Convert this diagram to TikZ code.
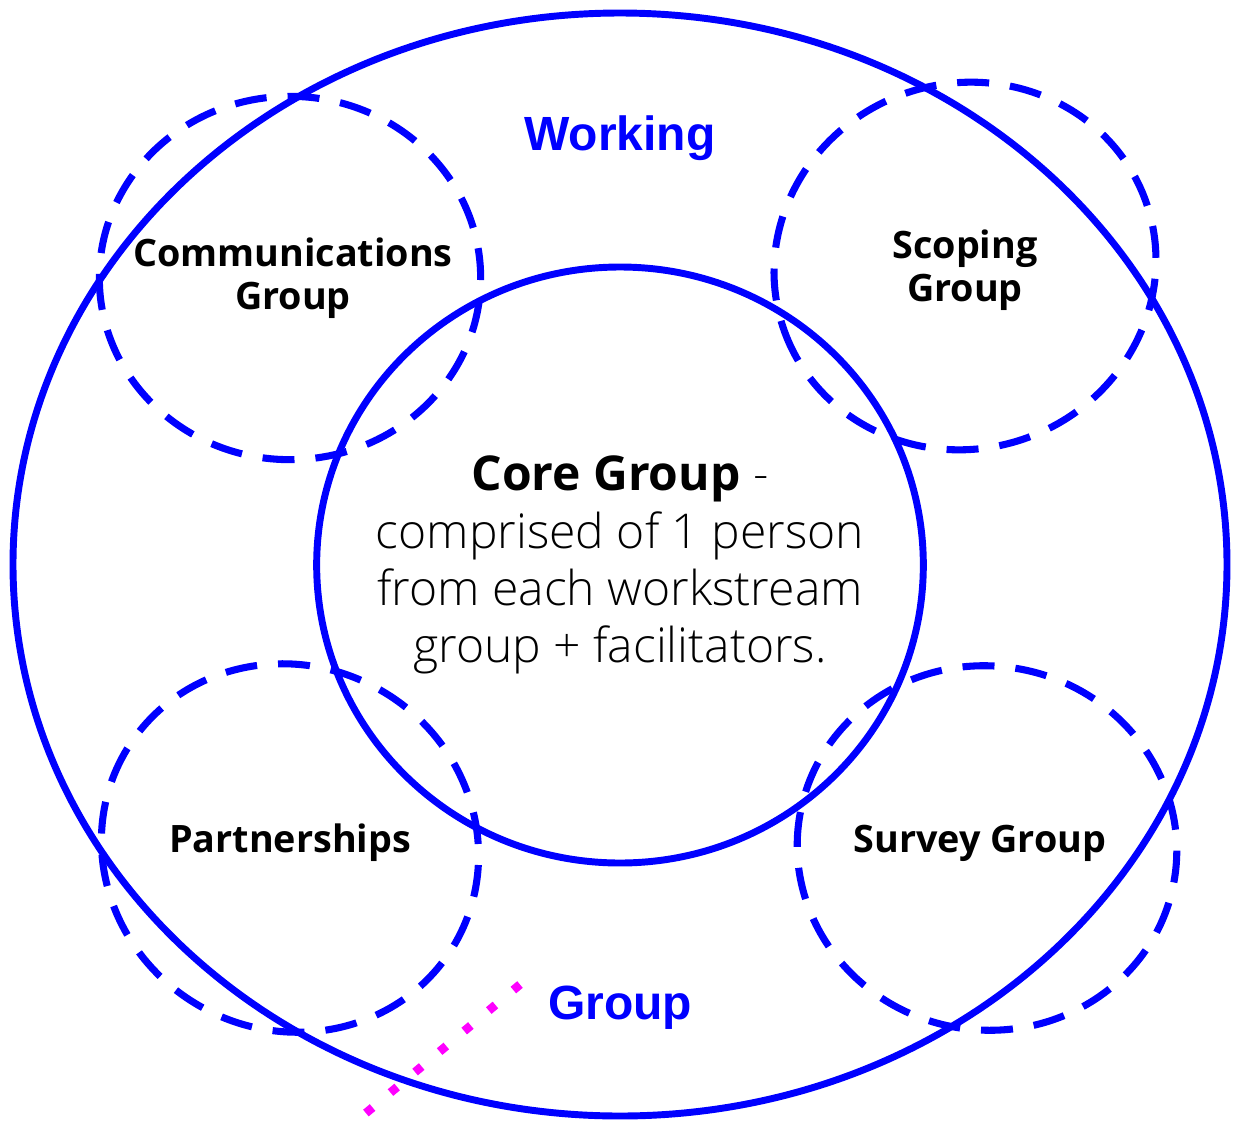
\documentclass[tikz,border=0pt]{standalone}
\usepackage{fontspec}
\setmainfont{Open Sans}
\IfFontExistsTF{Open Sans Light}{\newfontfamily\oslight{Open Sans Light}}{\newfontfamily\oslight{Open Sans}}
\newfontfamily\arialfont{Liberation Sans}
\usetikzlibrary{shapes.geometric}
\definecolor{dblue}{RGB}{0,0,255}
\definecolor{dmag}{RGB}{255,0,255}
\tikzset{
  ring/.style={ellipse, draw=dblue, line width=5.2pt, inner sep=0pt, outer sep=0pt},
  dring/.style={ellipse, draw=dblue, line width=5.3pt, inner sep=0pt, outer sep=0pt,
     dash pattern=on 24pt off 15.75pt},
  grouplabel/.style={font=\fontsize{28.3}{32.5}\selectfont\bfseries, align=center, text=black, inner sep=0pt},
  bluelabel/.style={font=\arialfont\fontsize{36}{40}\selectfont\bfseries, text=dblue, inner sep=0pt},
  bodyline/.style={anchor=base, inner sep=0pt, font=\oslight\fontsize{36}{43.5}\selectfont},
  dotline/.style={draw=dmag, line width=6.5pt, dash pattern=on 6.5pt off 17.5pt}
}
\begin{document}
\begin{tikzpicture}[x=0.75pt,y=-0.75pt]
\useasboundingbox (0,0) rectangle (1233,1122);
\node[ring, minimum width=910.5pt, minimum height=827.25pt] (outer) at (620,564.5) {};
\node[ring, minimum width=455pt, minimum height=447pt] (core) at (620,565) {};
\node[dring, minimum width=286pt, minimum height=272.5pt, rotate=180] (comm) at (290,278) {};
\node[dring, minimum width=288pt, minimum height=274pt, rotate=200] (scop) at (965,266) {};
\node[dring, minimum width=286pt, minimum height=273pt, rotate=150] (part) at (290,848) {};
\node[dring, minimum width=285pt, minimum height=273pt, rotate=170] (surv) at (987,848) {};

\node[bluelabel, anchor=base] (working) at (620,150) {Working};
\node[bluelabel, anchor=base] (group) at (620,1019) {Group};

\node[grouplabel, anchor=base] (commtext) at (293,266) {Communications};
\node[grouplabel, anchor=base] (commtext2) at (293,309) {Group};
\node[grouplabel, anchor=base] (scoptext) at (965,258) {Scoping};
\node[grouplabel, anchor=base] (scoptext2) at (965,301) {Group};
\node[grouplabel, anchor=base] (parttext) at (290,852) {Partnerships};
\node[grouplabel, anchor=base] (survtext) at (980,852) {Survey Group};

\node[anchor=base, inner sep=0pt] (coretitle) at (620,490)
  {\fontsize{36}{40}\selectfont\bfseries Core Group\oslight\mdseries\ -};
\node[bodyline] (coreline1) at (620,548) {comprised of 1 person};
\node[bodyline] (coreline2) at (620,605) {from each workstream};
\node[bodyline] (coreline3) at (620,662) {group + facilitators.};

\coordinate (magA) at (520,984.5);
\coordinate (magB) at (360,1118);
\draw[dotline] (magA) -- (magB);
\end{tikzpicture}
\end{document}
